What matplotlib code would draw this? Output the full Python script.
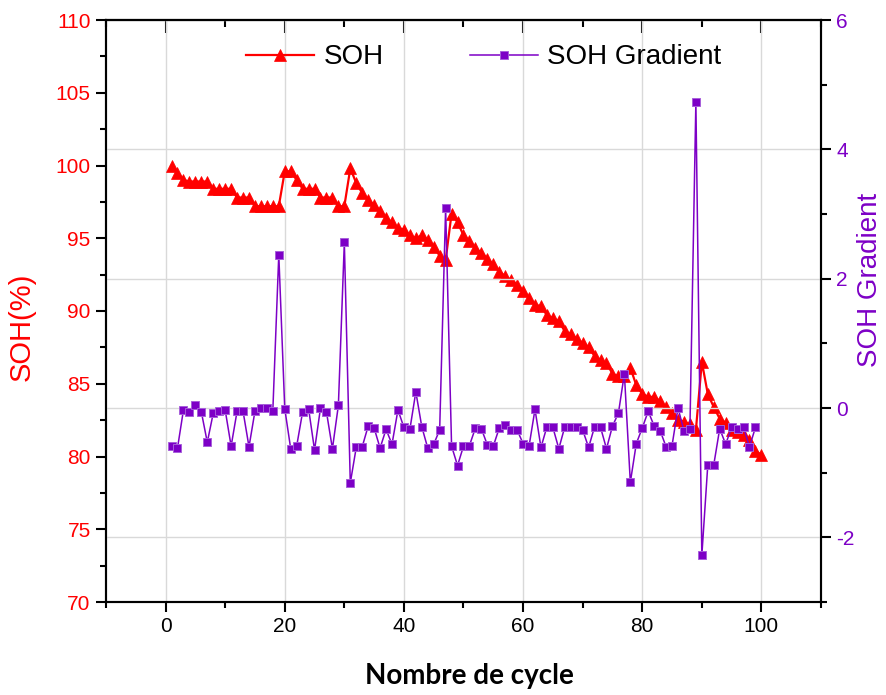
import numpy as np
import matplotlib
matplotlib.use("Agg")
from matplotlib import pyplot as plt
from matplotlib.ticker import MultipleLocator

plt.rcParams['font.family'] = ['Liberation Sans', 'DejaVu Sans']
plt.rcParams['axes.unicode_minus'] = False

RED = '#FF0000'
PURPLE = '#7D00C6'

# SOH (%) for cycles 1..100
cycles = list(range(1, 101))
soh = [100.0, 99.5, 99.0, 98.9, 98.9, 98.9, 98.9, 98.4, 98.4, 98.4,
       98.4, 97.8, 97.8, 97.8, 97.2, 97.2, 97.2, 97.2, 97.2, 99.6,
       99.6, 99.0, 98.4, 98.4, 98.4, 97.8, 97.8, 97.8, 97.2, 97.2,
       99.8, 98.8, 98.1, 97.6, 97.3, 96.9, 96.4, 96.1, 95.7, 95.6,
       95.2, 95.0, 95.2, 94.9, 94.4, 93.8, 93.5, 96.7, 96.1, 95.2,
       94.8, 94.3, 94.0, 93.6, 93.2, 92.7, 92.4, 92.1, 91.8, 91.4,
       90.9, 90.4, 90.35, 89.7, 89.5, 89.3, 88.6, 88.4, 88.1, 87.8,
       87.5, 86.9, 86.6, 86.4, 85.7, 85.5, 85.5, 86.1, 84.9, 84.3,
       84.1, 84.1, 83.8, 83.4, 83.0, 82.5, 82.4, 82.2, 81.8, 86.5,
       84.3, 83.4, 82.6, 82.3, 81.8, 81.7, 81.5, 81.1, 80.4, 80.1]

# SOH gradient for cycles 1..99
grad_cycles = list(range(1, 100))
soh_gradient = [-0.58, -0.62, -0.03, -0.06, 0.04, -0.06, -0.53, -0.08, -0.04, -0.03,
                -0.59, -0.05, -0.05, -0.60, -0.05, 0.0, 0.0, -0.04, 2.37, -0.01,
                -0.63, -0.59, -0.06, -0.01, -0.65, 0.0, -0.06, -0.63, 0.04, 2.56,
                -1.16, -0.61, -0.60, -0.28, -0.31, -0.62, -0.33, -0.56, -0.03, -0.30,
                -0.33, 0.25, -0.29, -0.62, -0.56, -0.34, 3.09, -0.59, -0.89, -0.59,
                -0.58, -0.31, -0.32, -0.57, -0.59, -0.31, -0.27, -0.34, -0.34, -0.55,
                -0.59, -0.02, -0.61, -0.29, -0.30, -0.63, -0.29, -0.30, -0.30, -0.34,
                -0.61, -0.29, -0.30, -0.63, -0.28, -0.08, 0.53, -1.15, -0.55, -0.31,
                -0.05, -0.28, -0.35, -0.60, -0.58, 0.0, -0.35, -0.32, 4.73, -2.28,
                -0.88, -0.88, -0.32, -0.56, -0.30, -0.32, -0.30, -0.60, -0.30]

fig = plt.figure(figsize=(8.87, 6.95), dpi=100)
ax = fig.add_axes([106 / 887, 1 - 602 / 695, 715 / 887, 582 / 695])
ax2 = ax.twinx()

l1, = ax.plot(cycles, soh, color=RED, lw=1.6, marker='^', ms=8,
              markeredgecolor=RED, markeredgewidth=0.5, label='SOH')
l2, = ax2.plot(grad_cycles, soh_gradient, color=PURPLE, lw=1.1, marker='s', ms=6.3,
               markeredgecolor='#A760DA', markeredgewidth=0.7, label='SOH Gradient')

# axes ranges / ticks
ax.set_xlim(-10, 110)
ax.set_ylim(70, 110)
ax2.set_ylim(-3, 6)
ax.xaxis.set_major_locator(MultipleLocator(20))
ax.xaxis.set_minor_locator(MultipleLocator(10))
ax.yaxis.set_major_locator(MultipleLocator(5))
ax.yaxis.set_minor_locator(MultipleLocator(2.5))
ax2.yaxis.set_major_locator(MultipleLocator(2))
ax2.yaxis.set_minor_locator(MultipleLocator(1))

for a in (ax, ax2):
    for s in a.spines.values():
        s.set_linewidth(1.5)

ax.tick_params(axis='both', which='major', direction='out', length=7, width=1.5,
               labelsize=15, pad=4)
ax.tick_params(axis='both', which='minor', direction='out', length=4, width=1.5)
ax.tick_params(axis='y', which='both', labelcolor=RED)
ax2.tick_params(axis='y', which='major', direction='out', length=7, width=1.5,
                labelsize=15, labelcolor=PURPLE, pad=4)
ax2.tick_params(axis='y', which='minor', direction='out', length=4, width=1.5)

# top ticks inward
top = ax.secondary_xaxis('top')
top.xaxis.set_major_locator(MultipleLocator(20))
top.xaxis.set_minor_locator(MultipleLocator(10))
top.tick_params(which='major', direction='in', length=9, width=1.5, labeltop=False)
top.tick_params(which='minor', direction='in', length=5, width=1.5)
top.spines['top'].set_linewidth(1.5)

# grid
ax.grid(axis='x', which='major', color='#d9d9d9', lw=1)
ax2.grid(axis='y', which='major', color='#d9d9d9', lw=1)
ax.set_axisbelow(True)

# labels
ax.set_ylabel('SOH(%)', color=RED, fontsize=21)
ax.yaxis.set_label_coords(-0.098, 0.472)
ax2.set_ylabel('SOH Gradient', color=PURPLE, fontsize=20)
ax2.yaxis.set_label_coords(1.050, 0.553)
ax.set_xlabel('Nombre de cycle', fontsize=20, fontweight='bold',
              family=['Lato', 'DejaVu Sans'])
ax.xaxis.set_label_coords(0.508, -0.105)

leg = ax2.legend(handles=[l1, l2], loc='center', bbox_to_anchor=(0.528, 1 - 37.5 / 582),
                 ncol=2, frameon=False, fontsize=20, handlelength=2.45,
                 handletextpad=0.35, columnspacing=3.1, numpoints=1)

fig.savefig('out.png', dpi=100)
